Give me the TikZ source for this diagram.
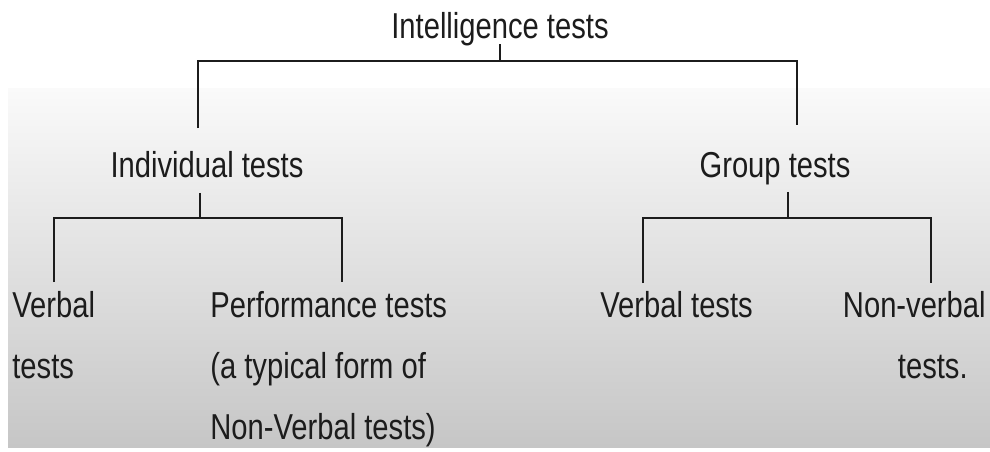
\documentclass[tikz,border=0pt]{standalone}
\usepackage{fontspec}
\setmainfont[FakeStretch=0.81]{Liberation Sans}
\definecolor{panetop}{RGB}{250,250,250}
\definecolor{panebot}{RGB}{198,198,198}
\definecolor{ink}{RGB}{28,28,28}

\begin{document}
\begin{tikzpicture}[x=0.02cm, y=-0.02cm,
      lbl/.style={inner sep=0pt, text=ink, font=\fontsize{20.5}{34.6}\selectfont},
      head/.style={lbl, anchor=base, text depth=0.25em},
      leaf/.style={lbl, align=left, anchor=base west},
      wire/.style={draw=ink, line width=1.2pt},
    ]
      \useasboundingbox (0,0) rectangle (990,451);
      \shade[top color=panetop, bottom color=panebot] (8,88) rectangle (990,447);
      % labels (multi-line ones sit on the baseline of their last line)
      \node[head] (1) at (500, 38) {Intelligence tests};
      \node[head] (2) at (207, 177) {Individual tests};
      \node[head] (3) at (775, 177) {Group tests};
      \node[leaf] (4) at (12, 378) {Verbal\\tests};
      \node[leaf] (5) at (210, 439) {Performance tests\\(a typical form of\\Non-Verbal tests)};
      \node[leaf] (6) at (600, 317) {Verbal tests};
      \node[lbl, align=right, anchor=base east] (7) at (986, 378) {Non-verbal\\tests.\hspace*{0.36cm}};
      \coordinate (j1) at (500, 61);
      \coordinate (j2) at (200, 218);
      \coordinate (j3) at (788, 218);
      \coordinate (e1) at (198, 128);
      \coordinate (e2) at (797, 125);
      \coordinate (e3) at (54, 282);
      \coordinate (e4) at (342, 282);
      \coordinate (e5) at (643, 283);
      \coordinate (e6) at (931, 283);
      % connectors
      \draw[wire, shorten <=0.03cm] (1.south) -- (j1);
      \draw[wire] (e1) |- (j1) -| (e2);
      \draw[wire, shorten <=0.22cm] (2.south -| j2) -- (j2);
      \draw[wire] (e3) |- (j2) -| (e4);
      \draw[wire, shorten <=0.2cm] (3.south -| j3) -- (j3);
      \draw[wire] (e5) |- (j3) -| (e6);
\end{tikzpicture}
\end{document}
